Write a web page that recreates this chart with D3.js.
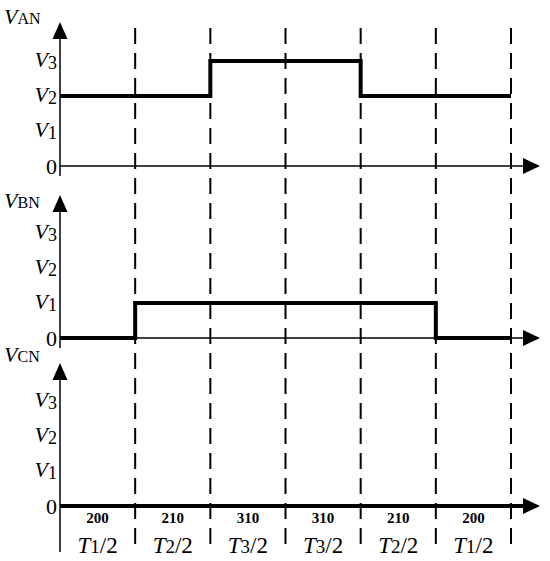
<!DOCTYPE html>
<html><head><meta charset="utf-8">
<script src="https://cdn.jsdelivr.net/npm/d3@7"></script>
<style>body{margin:0;background:#fff}svg{display:block}
svg text{font-family:"Liberation Serif","Times New Roman",Times,serif !important;fill:#000}</style>
</head><body>
<script>
// ---- data ----
const segmentCodes = ["200","210","310","310","210","200"];
const periodSubs = ["1","2","3","3","2","1"];
const levelSubs = ["","1","2","3"];          // tick labels 0, V1, V2, V3
const levelValues = [0,1,2,3];
const seriesNames = ["AN","BN","CN"];
const vAN = [2,2,3,3,2,2];
const vBN = [0,1,1,1,1,0];
const vCN = [0,0,0,0,0,0];
const seriesValues = [vAN, vBN, vCN];

const W = 550, H = 561;
const FONT = "'Liberation Serif', 'Times New Roman', Times, serif";
const svg = d3.select("body").append("svg").attr("width", W).attr("height", H)
  .attr("font-family", FONT);

const x = d3.scaleLinear().domain([0, 6]).range([60, 511]);
const zeros = [166, 338, 506];
const tips = [22, 195, 363];
const nameBase = [24, 208, 362];
const axisBottom = [176, 348, 552];

// dashed boundaries
svg.append("g").selectAll("line").data(d3.range(1, 7)).join("line")
  .attr("x1", d => x(d)).attr("x2", d => x(d))
  .attr("y1", 28).attr("y2", 553)
  .attr("stroke", "#000").attr("stroke-width", 2)
  .attr("stroke-dasharray", "16,9");

seriesValues.forEach((vals, p) => {
  const y = d3.scaleLinear().domain([0, 3]).range([zeros[p], zeros[p] - 105]);
  const g = svg.append("g");

  // y axis line + arrow
  g.append("line").attr("x1", x(0)).attr("x2", x(0))
    .attr("y1", axisBottom[p]).attr("y2", tips[p] + 12)
    .attr("stroke", "#000").attr("stroke-width", 1.5);
  g.append("path")
    .attr("d", `M${x(0)},${tips[p]} L${x(0)-7.5},${tips[p]+17} L${x(0)+7.5},${tips[p]+17}Z`)
    .attr("fill", "#000");

  // x axis line + arrow
  g.append("line").attr("x1", x(0)).attr("x2", 528)
    .attr("y1", y(0)).attr("y2", y(0))
    .attr("stroke", "#000").attr("stroke-width", p === 2 ? 4 : 1.5);
  g.append("path")
    .attr("d", `M540,${y(0)} L523,${y(0)-8} L523,${y(0)+8}Z`)
    .attr("fill", "#000");

  // tick labels via d3 axis
  const ax = g.append("g").attr("transform", `translate(${x(0) - 3},0)`)
    .call(d3.axisLeft(y).tickValues(levelValues).tickSize(0).tickPadding(0).tickFormat(() => ""));
  ax.attr("font-family", FONT);
  ax.select(".domain").remove();
  ax.selectAll(".tick text").each(function(d) {
    const t = d3.select(this).attr("dy", null).attr("y", d === 0 ? 7 : 5)
      .attr("font-size", 22).attr("text-anchor", "end").attr("font-family", FONT);
    if (d === 0) { t.text("0"); }
    else {
      t.append("tspan").attr("font-style", "italic").text("V");
      t.append("tspan").attr("font-size", 18).attr("dy", 2).text(levelSubs[d]);
    }
  });

  // axis name
  const nm = g.append("text").attr("x", 4).attr("y", nameBase[p]).attr("font-size", 22);
  nm.append("tspan").attr("font-style", "italic").text("V");
  nm.append("tspan").attr("font-size", 16).text(seriesNames[p]);

  // waveform
  const pts = vals.map((v, i) => [i, v]).concat([[6, vals[vals.length - 1]]]);
  const line = d3.line().x(d => x(d[0])).y(d => y(d[1])).curve(d3.curveStepAfter);
  g.append("path").attr("d", line(pts)).attr("fill", "none")
    .attr("stroke", "#000").attr("stroke-width", 4).attr("stroke-linejoin", "miter");
});

// bottom labels
const lab = svg.append("g");
segmentCodes.forEach((c, i) => {
  const cx = x(i + 0.5);
  lab.append("text").attr("x", cx).attr("y", 523).attr("text-anchor", "middle")
    .attr("font-size", 15).attr("font-weight", "bold").text(c);
  const t = lab.append("text").attr("x", cx).attr("y", 553).attr("text-anchor", "middle").attr("font-size", 23);
  t.append("tspan").attr("font-style", "italic").text("T");
  t.append("tspan").attr("font-size", 19).text(periodSubs[i]);
  t.append("tspan").text("/2");
});
</script>
</body></html>
